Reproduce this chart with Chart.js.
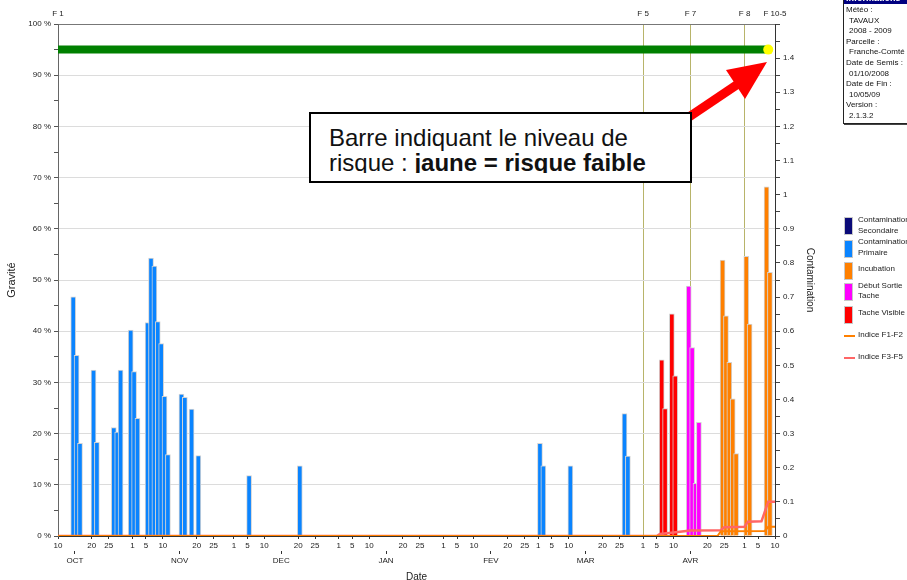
<!DOCTYPE html>
<html lang="fr">
<head>
    <meta charset="UTF-8">
    <title>Gravité - Contamination</title>
    <style>
        body {
            margin: 0;
            padding: 0;
            background: #fff;
            font-family: Arial, "Liberation Sans", sans-serif;
            overflow: hidden;
        }

        .wrap {
            position: relative;
            width: 907px;
            height: 580px;
            overflow: hidden;
        }

        canvas {
            position: absolute;
            left: 0;
            top: 0;
        }

        .note {
            position: absolute;
            left: 309px;
            top: 112px;
            width: 379px;
            height: 67px;
            border: 2px solid #000;
            background: #fff;
        }

        .note .txt {
            position: absolute;
            left: 18px;
            top: 10.7px;
            right: 0;
            height: 48.3px;
            overflow: hidden;
            font-size: 24px;
            line-height: 25.7px;
            color: #111;
            white-space: nowrap;
        }

        .info {
            position: absolute;
            left: 843px;
            top: -9px;
            width: 90px;
            height: 131px;
            border: 1px solid #222;
            box-shadow: 1px 1px 0 #444;
            background: #fff;
            font-size: 8px;
            color: #111;
            white-space: nowrap;
        }

        .info .hd {
            height: 12px;
            line-height: 12px;
            background: #000080;
            color: #fff;
            font-weight: bold;
            font-size: 9px;
            padding-left: 2px;
            margin-bottom: 1px;
        }

        .info .l {
            line-height: 10.6px;
            padding-left: 2px;
        }

        .info .v {
            padding-left: 5px;
        }

        .leg {
            position: absolute;
            left: 844px;
            font-size: 8px;
            line-height: 10.7px;
            color: #222;
            white-space: nowrap;
        }

        .leg .box {
            position: absolute;
            left: 0;
            width: 7px;
            height: 16px;
            border: 1px solid #c8c8c8;
        }

        .leg .ln {
            position: absolute;
            left: 0;
            width: 11px;
            height: 2px;
        }

        .leg .lab {
            position: absolute;
            left: 14px;
        }
    </style>
</head>
<body>
<div class="wrap">
    <canvas id="chart" width="907" height="580"></canvas>

    <div class="note">
        <div class="txt">Barre indiquant le niveau de<br>risque : <b>jaune = risque faible</b></div>
    </div>

    <div class="info">
        <div class="hd">Informations</div>
        <div class="l">Météo :</div>
        <div class="l v">TAVAUX</div>
        <div class="l v">2008 - 2009</div>
        <div class="l">Parcelle :</div>
        <div class="l v">Franche-Comté</div>
        <div class="l">Date de Semis :</div>
        <div class="l v">01/10/2008</div>
        <div class="l">Date de Fin :</div>
        <div class="l v">10/05/09</div>
        <div class="l">Version :</div>
        <div class="l v">2.1.3.2</div>
    </div>

    <div class="leg" id="legend"></div>
</div>

<script src="https://cdn.jsdelivr.net/npm/chart.js@4.4.1/dist/chart.umd.min.js"></script>
<script>
    // axis range
    const startDate = '2008-10-10';
    const endDate = '2009-05-10';

    // tick labels
    const monthNames = ['OCT', 'NOV', 'DEC', 'JAN', 'FEV', 'MAR', 'AVR'];
    const monthFirst = ['2008-10', '2008-11', '2008-12', '2009-01', '2009-02', '2009-03', '2009-04', '2009-05'];
    const dayTickNums = [1, 5, 10, 20, 25];
    const fLabels = ['F 1', 'F 5', 'F 7', 'F 8', 'F 10-5'];
    const fDates = ['2008-10-10', '2009-04-01', '2009-04-15', '2009-05-01', '2009-05-10'];

    // Gravité (%) par jour
    const secDates = [];
    const secValues = [];

    const primDates = ['2008-10-14', '2008-10-15', '2008-10-16', '2008-10-20', '2008-10-21', '2008-10-26',
        '2008-10-27', '2008-10-28', '2008-10-31', '2008-11-01', '2008-11-02', '2008-11-05', '2008-11-06',
        '2008-11-07', '2008-11-08', '2008-11-09', '2008-11-10', '2008-11-11', '2008-11-15', '2008-11-16',
        '2008-11-18', '2008-11-20', '2008-12-05', '2008-12-20', '2009-03-01', '2009-03-02', '2009-03-10',
        '2009-03-26', '2009-03-27'];
    const primValues = [46.7, 35.3, 18.1, 32.4, 18.3, 21.2,
        20.3, 32.4, 40.2, 32.1, 23.0, 41.7, 54.3,
        52.7, 41.9, 37.6, 27.3, 15.9, 27.7, 27.1,
        24.8, 15.7, 11.8, 13.7, 18.1, 13.7, 13.7,
        23.9, 15.6];

    const incubDates = ['2009-04-24', '2009-04-25', '2009-04-26', '2009-04-27', '2009-04-28',
        '2009-05-01', '2009-05-02', '2009-05-07', '2009-05-08'];
    const incubValues = [53.9, 43.0, 33.9, 26.8, 16.1, 54.6, 41.4, 68.2, 51.5];

    const sortieDates = ['2009-04-14', '2009-04-15', '2009-04-16', '2009-04-17'];
    const sortieValues = [48.8, 36.8, 10.3, 22.2];

    const visibleDates = ['2009-04-06', '2009-04-07', '2009-04-09', '2009-04-10'];
    const visibleValues = [34.4, 24.9, 43.4, 31.3];

    // Contamination indices
    const f12Dates = ['2008-10-10', '2009-04-23', '2009-04-24', '2009-05-07', '2009-05-08', '2009-05-10'];
    const f12Values = [0, 0, 0.014, 0.015, 0.027, 0.027];

    const f35Dates = ['2008-10-10', '2009-04-05', '2009-04-06', '2009-04-10', '2009-04-15', '2009-04-24',
        '2009-04-25', '2009-05-01', '2009-05-02', '2009-05-06', '2009-05-08', '2009-05-10'];
    const f35Values = [0, 0, 0.006, 0.01, 0.016, 0.017,
        0.026, 0.027, 0.042, 0.043, 0.1, 0.1];

    // risk bar: green up to the yellow day
    const riskGreenDates = ['2008-10-10', '2009-05-08'];
    const riskYellowDate = '2009-05-08';
    const riskBarLevel = 95;

    const DAY = 86400000;
    const t0 = Date.parse(startDate);
    const dayOf = d => Math.round((Date.parse(d) - t0) / DAY);
    const lastDay = dayOf(endDate);
    const pad = n => (n < 10 ? '0' : '') + n;

    const dayTicks = [];
    monthFirst.forEach(m => {
        dayTickNums.forEach(n => {
            const d = dayOf(m + '-' + pad(n));
            if (d >= 0 && d <= lastDay) dayTicks.push({value: d, label: String(n)});
        });
    });
    const monthTicks = monthNames.map((name, i) => ({value: dayOf(monthFirst[i] + '-15'), label: name}));
    const fTicks = fLabels.map((lab, i) => ({value: dayOf(fDates[i]), label: lab}));

    const labelOf = list => v => {
        const t = list.find(k => k.value === v);
        return t ? t.label : '';
    };

    const bars = (label, dates, values, color) => ({
        type: 'bar',
        label: label,
        xAxisID: 'x',
        yAxisID: 'y',
        data: dates.map((d, i) => ({x: dayOf(d) + 0.5, y: values[i]})),
        backgroundColor: color,
        borderColor: '#d4d4d4',
        borderWidth: 1,
        borderSkipped: 'start',
        barThickness: 5,
        grouped: false,
        order: 2
    });

    const line = (label, dates, values, color, width) => ({
        type: 'line',
        label: label,
        xAxisID: 'x',
        yAxisID: 'y2',
        data: dates.map((d, i) => ({x: dayOf(d), y: values[i]})),
        borderColor: color,
        borderWidth: width,
        pointRadius: 0,
        tension: 0,
        fill: false,
        order: 0
    });

    const legendItems = [
        {text: 'Contamination<br>Secondaire', color: '#0a0a78', top: 215, box: 217},
        {text: 'Contamination<br>Primaire', color: '#0a84ff', top: 237.3, box: 239.5},
        {text: 'Incubation', color: '#ff8000', top: 264, box: 261.5},
        {text: 'Début Sortie<br>Tache', color: '#ff00ff', top: 280.7, box: 283},
        {text: 'Tache Visible', color: '#ff0000', top: 308, box: 305.5},
        {text: 'Indice F1-F2', color: '#ff8000', top: 330.4, line: 335},
        {text: 'Indice F3-F5', color: '#ff6666', top: 352, line: 356.5}
    ];

    const legend = document.getElementById('legend');
    legendItems.forEach(it => {
        if (it.line !== undefined) {
            legend.insertAdjacentHTML('beforeend',
                `<div class="ln" style="top:${it.line}px;background:${it.color}"></div>`);
        } else {
            legend.insertAdjacentHTML('beforeend',
                `<div class="box" style="top:${it.box}px;background:${it.color}"></div>`);
        }
        legend.insertAdjacentHTML('beforeend',
            `<div class="lab" style="top:${it.top}px">${it.text}</div>`);
    });

    // red arrow pointing at the risk bar
    const arrowPlugin = {
        id: 'arrow',
        afterDraw(chart) {
            const c = chart.ctx;
            c.save();
            c.strokeStyle = '#ff0000';
            c.fillStyle = '#ff0000';
            c.lineWidth = 9;
            c.beginPath();
            c.moveTo(686, 119);
            c.lineTo(738, 84);
            c.stroke();
            c.beginPath();
            c.moveTo(767, 62);
            c.lineTo(726, 70);
            c.lineTo(745, 99);
            c.closePath();
            c.fill();
            c.restore();
        }
    };

    Chart.defaults.font.family = 'Arial, "Liberation Sans", sans-serif';
    Chart.defaults.color = '#222';

    const ctx = document.getElementById('chart').getContext('2d');
    new Chart(ctx, {
        type: 'bar',
        data: {
            datasets: [
                {
                    type: 'line',
                    label: 'Risque',
                    xAxisID: 'x',
                    yAxisID: 'y',
                    data: riskGreenDates.map(d => ({x: dayOf(d), y: riskBarLevel})),
                    borderColor: '#008000',
                    borderWidth: 8,
                    pointRadius: 0,
                    order: 1
                },
                {
                    type: 'line',
                    label: 'Risque faible',
                    xAxisID: 'x',
                    yAxisID: 'y',
                    data: [{x: dayOf(riskYellowDate), y: riskBarLevel}],
                    showLine: false,
                    pointRadius: 5,
                    pointBackgroundColor: '#ffff00',
                    pointBorderWidth: 0,
                    order: 0
                },
                bars('Contamination Secondaire', secDates, secValues, '#0a0a78'),
                bars('Contamination Primaire', primDates, primValues, '#0a84ff'),
                bars('Incubation', incubDates, incubValues, '#ff8000'),
                bars('Début Sortie Tache', sortieDates, sortieValues, '#ff00ff'),
                bars('Tache Visible', visibleDates, visibleValues, '#ff0000'),
                line('Indice F1-F2', f12Dates, f12Values, '#ff8000', 2),
                line('Indice F3-F5', f35Dates, f35Values, '#ff6666', 2.5)
            ]
        },
        options: {
            responsive: false,
            animation: false,
            layout: {padding: {left: 0, right: 90, top: 0, bottom: 0}},
            plugins: {
                legend: {display: false},
                tooltip: {enabled: false}
            },
            scales: {
                x: {
                    type: 'linear',
                    position: 'bottom',
                    min: 0,
                    max: lastDay,
                    offset: false,
                    afterBuildTicks: s => { s.ticks = dayTicks.map(t => ({value: t.value})); },
                    afterFit: s => { s.height = 15; },
                    ticks: {
                        autoSkip: false,
                        maxRotation: 0,
                        padding: 2,
                        font: {size: 8},
                        color: '#222',
                        callback: labelOf(dayTicks)
                    },
                    grid: {drawOnChartArea: false, offset: false, tickLength: 3, tickColor: '#333'},
                    border: {color: '#333'}
                },
                xm: {
                    type: 'linear',
                    position: 'bottom',
                    min: 0,
                    max: lastDay,
                    offset: false,
                    afterBuildTicks: s => { s.ticks = monthTicks.map(t => ({value: t.value})); },
                    afterFit: s => { s.height = 29; },
                    ticks: {
                        autoSkip: false,
                        maxRotation: 0,
                        padding: 2,
                        font: {size: 8},
                        color: '#222',
                        callback: labelOf(monthTicks)
                    },
                    grid: {drawOnChartArea: false, offset: false, tickLength: 3, tickColor: '#333'},
                    border: {display: false},
                    title: {display: true, text: 'Date', padding: 0, font: {size: 10, lineHeight: 0.6}, color: '#222'}
                },
                xt: {
                    type: 'linear',
                    position: 'top',
                    min: 0,
                    max: lastDay,
                    offset: false,
                    afterBuildTicks: s => { s.ticks = fTicks.map(t => ({value: t.value})); },
                    afterFit: s => { s.height = 24; },
                    ticks: {
                        autoSkip: false,
                        maxRotation: 0,
                        padding: 5,
                        font: {size: 8},
                        color: '#222',
                        callback: labelOf(fTicks)
                    },
                    grid: {color: '#b8b46a', lineWidth: 1, drawTicks: false, offset: false},
                    border: {color: '#777'}
                },
                y: {
                    position: 'left',
                    min: 0,
                    max: 100,
                    afterFit: s => { s.width = 58; },
                    ticks: {
                        stepSize: 5,
                        autoSkip: false,
                        padding: 3,
                        font: {size: 8},
                        color: '#222',
                        callback: v => (v % 10 === 0 ? v + ' %' : '')
                    },
                    grid: {
                        color: c => (c.tick.value === 100 ? '#777' : (c.tick.value % 10 === 0 ? '#dcdcdc' : 'rgba(0,0,0,0)')),
                        tickColor: '#555',
                        tickLength: 4
                    },
                    border: {color: '#666'},
                    title: {display: true, text: 'Gravité', padding: 0, font: {size: 11, lineHeight: 2.2}, color: '#222'}
                },
                y2: {
                    position: 'right',
                    min: 0,
                    max: 1.5,
                    afterFit: s => { s.width = 42; },
                    ticks: {
                        stepSize: 0.05,
                        autoSkip: false,
                        padding: 3,
                        font: {size: 8},
                        color: '#222',
                        callback: v => {
                            const r = Math.round(v * 100);
                            return (r % 10 === 0 && r < 150) ? String(r / 100) : '';
                        }
                    },
                    grid: {drawOnChartArea: false, tickColor: '#444', tickLength: 5},
                    border: {color: '#333'},
                    title: {display: true, text: 'Contamination', padding: 0, font: {size: 10, lineHeight: 1.5}, color: '#222'}
                }
            }
        },
        plugins: [arrowPlugin]
    });
</script>
</body>
</html>
